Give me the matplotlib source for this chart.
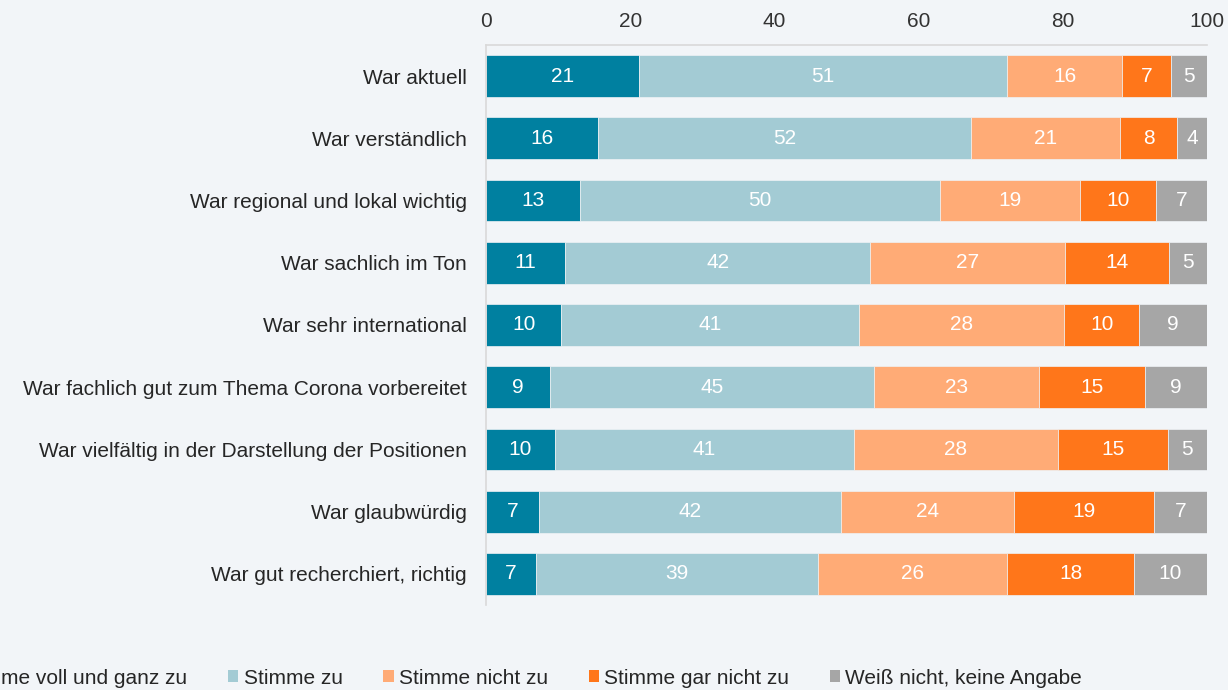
import matplotlib.pyplot as plt
from matplotlib.patches import Patch

categories = [
    "War aktuell",
    "War verständlich",
    "War regional und lokal wichtig",
    "War sachlich im Ton",
    "War sehr international",
    "War fachlich gut zum Thema Corona vorbereitet",
    "War vielfältig in der Darstellung der Positionen",
    "War glaubwürdig",
    "War gut recherchiert, richtig",
]
series_names = [
    "Stimme voll und ganz zu",
    "Stimme zu",
    "Stimme nicht zu",
    "Stimme gar nicht zu",
    "Weiß nicht, keine Angabe",
]
voll_zu = [21.26, 15.56, 12.98, 11.0, 10.45, 8.94, 9.54, 7.29, 6.89]
zu = [51.0, 51.73, 49.94, 42.3, 41.26, 44.84, 41.45, 41.98, 39.2]
nicht_zu = [15.97, 20.67, 19.48, 26.96, 28.45, 22.92, 28.29, 23.92, 26.24]
gar_nicht_zu = [6.82, 7.94, 10.47, 14.44, 10.45, 14.70, 15.27, 19.46, 17.55]
weiss_nicht = [4.96, 4.10, 7.14, 5.29, 9.40, 8.59, 5.45, 7.34, 10.12]
x_ticks = [0, 20, 40, 60, 80, 100]

colors = ["#0080a0", "#a3cbd4", "#ffab76", "#ff761a", "#a6a6a6"]
bg = "#f2f5f8"

plt.rcParams["font.family"] = ["Liberation Sans", "DejaVu Sans"]

fig = plt.figure(figsize=(12.28, 6.9), dpi=100, facecolor=bg)
ax = fig.add_axes([486 / 1228, 1 - 605 / 690, 721 / 1228, 560 / 690])
ax.set_facecolor(bg)

ypos = list(range(len(categories)))
left = [0.0] * len(categories)
for name, vals, col in zip(series_names, [voll_zu, zu, nicht_zu, gar_nicht_zu, weiss_nicht], colors):
    bars = ax.barh(ypos, vals, left=left, height=0.67, color=col,
                   edgecolor="#eef2f5", linewidth=0.5, label=name)
    ax.bar_label(bars, labels=[str(round(v)) for v in vals], label_type="center",
                 color="white", fontsize=15)
    left = [a + b for a, b in zip(left, vals)]

ax.set_xlim(0, 100)
ax.set_ylim(len(categories) - 0.5, -0.5)
ax.set_yticks(ypos)
ax.set_yticklabels(categories)
ax.set_xticks(x_ticks)
ax.xaxis.tick_top()
ax.tick_params(axis="x", length=0, pad=10, labelsize=15, labelcolor="#333333")
ax.tick_params(axis="y", length=0, pad=14, labelsize=15, labelcolor="#262626")

for s in ["right", "bottom"]:
    ax.spines[s].set_visible(False)
ax.spines["top"].set_color("#d9d9d9")
ax.spines["left"].set_color("#d9d9d9")
ax.spines["top"].set_linewidth(1.2)
ax.spines["left"].set_linewidth(1.2)

handles = [Patch(facecolor=c, edgecolor="none") for c in colors]
fig.legend(handles, series_names, loc="center left", bbox_to_anchor=(-0.046, 0.017),
           ncol=5, frameon=False, fontsize=15, handlelength=0.5, handleheight=0.5,
           handletextpad=0.25, columnspacing=1.95, borderaxespad=0, borderpad=0,
           labelcolor="#262626")

fig.savefig("out.png", dpi=100, facecolor=bg)
